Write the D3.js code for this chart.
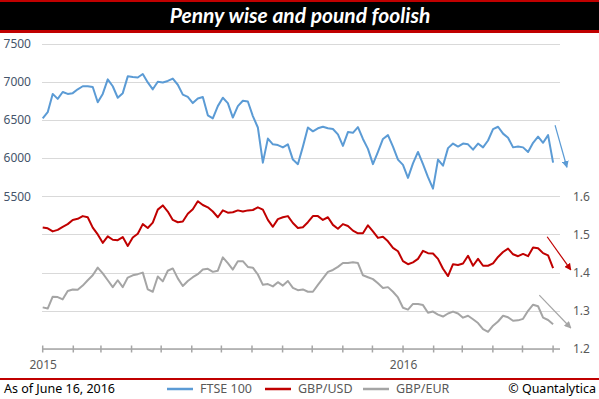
<!DOCTYPE html>
<html>
<head>
<meta charset="utf-8">
<script src="https://cdn.jsdelivr.net/npm/d3@7"></script>
<style>
  body { margin: 0; background: #fff; }
  svg { display: block; font-family: "Noto Sans", sans-serif; }
</style>
</head>
<body>
<svg id="chart" width="599" height="399"></svg>
<script>
const title = "Penny wise and pound foolish";
const seriesNames = ["FTSE 100", "GBP/USD", "GBP/EUR"];
const seriesColors = ["#5b9bd5", "#c00000", "#a5a5a5"];

// roughly every 5 days, Jan 2015 -> Jun 2016
const ftse = [
  6520, 6600, 6840, 6775, 6865, 6840, 6850, 6900, 6940, 6940,
  6930, 6730, 6840, 7030, 6940, 6790, 6850, 7070, 7060, 7055,
  7100, 6990, 6900, 7000, 6990, 7010, 7040, 6960, 6830, 6800,
  6720, 6780, 6800, 6560, 6520, 6680, 6790, 6720, 6530, 6680,
  6750, 6740, 6550, 6400, 5940, 6255, 6180, 6170, 6140, 6180,
  5980, 5920, 6150, 6400, 6350, 6390, 6410, 6390, 6380, 6310,
  6160, 6340, 6330, 6405, 6250, 6120, 5920, 6080, 6250, 6300,
  6150, 5980, 5910, 5740, 5930, 6080, 5920, 5750, 5600, 5980,
  5900, 6130, 6190, 6150, 6190, 6180, 6110, 6190, 6140, 6230,
  6380, 6410, 6320, 6265, 6140, 6150, 6140, 6080, 6200, 6280,
  6200, 6300, 5940
];
const gbpusd = [
  1.518, 1.516, 1.508, 1.512, 1.520, 1.527, 1.538, 1.541, 1.548, 1.545,
  1.518, 1.500, 1.478, 1.495, 1.486, 1.485, 1.493, 1.470, 1.492, 1.502,
  1.527, 1.517, 1.531, 1.565, 1.576, 1.560, 1.538, 1.532, 1.534, 1.554,
  1.566, 1.587, 1.577, 1.571, 1.560, 1.545, 1.563, 1.557, 1.558, 1.563,
  1.560, 1.563, 1.564, 1.571, 1.565, 1.538, 1.520, 1.540, 1.545, 1.548,
  1.530, 1.517, 1.519, 1.532, 1.548, 1.548, 1.538, 1.545, 1.525, 1.515,
  1.527, 1.522, 1.510, 1.503, 1.503, 1.524, 1.508, 1.491, 1.494, 1.482,
  1.465, 1.456, 1.430, 1.422, 1.427, 1.436, 1.457, 1.451, 1.450, 1.436,
  1.410, 1.391, 1.422, 1.420, 1.424, 1.444, 1.418, 1.436, 1.418, 1.418,
  1.424, 1.441, 1.454, 1.463, 1.448, 1.443, 1.449, 1.443, 1.466, 1.464,
  1.451, 1.445, 1.412
];
const gbpeur = [
  1.309, 1.306, 1.337, 1.336, 1.330, 1.352, 1.356, 1.355, 1.366, 1.380,
  1.393, 1.413, 1.398, 1.380, 1.362, 1.380, 1.362, 1.387, 1.393, 1.396,
  1.400, 1.356, 1.350, 1.390, 1.377, 1.405, 1.411, 1.385, 1.365, 1.378,
  1.388, 1.396, 1.408, 1.410, 1.402, 1.405, 1.440, 1.425, 1.408, 1.430,
  1.430, 1.415, 1.413, 1.395, 1.368, 1.370, 1.364, 1.375, 1.366, 1.378,
  1.360, 1.354, 1.356, 1.350, 1.350, 1.368, 1.385, 1.402, 1.407, 1.415,
  1.425, 1.425, 1.427, 1.425, 1.393, 1.388, 1.383, 1.372, 1.360, 1.362,
  1.350, 1.335, 1.308, 1.303, 1.318, 1.318, 1.315, 1.295, 1.298, 1.290,
  1.285, 1.293, 1.298, 1.293, 1.282, 1.287, 1.278, 1.268, 1.252, 1.245,
  1.261, 1.272, 1.287, 1.283, 1.274, 1.275, 1.279, 1.300, 1.316, 1.312,
  1.282, 1.276, 1.265
];

const leftTicks = [5500, 6000, 6500, 7000, 7500];
const rightTicks = [1.2, 1.3, 1.4, 1.5, 1.6];

// trend arrows: [date, value] from -> to
const arrows = [
  { axis: "left",  color: "#5b9bd5", from: [new Date(2016, 5, 3), 6430], to: [new Date(2016, 5, 15), 5880] },
  { axis: "right", color: "#c00000", from: [new Date(2016, 4, 26), 1.494], to: [new Date(2016, 5, 19), 1.407] },
  { axis: "right", color: "#a5a5a5", from: [new Date(2016, 4, 18), 1.341], to: [new Date(2016, 5, 19), 1.255] }
];

const startDate = new Date(2015, 0, 1);
const lastDate = new Date(2016, 5, 1);
const stepMs = (lastDate - startDate) / (ftse.length - 1);
const dateAt = i => new Date(startDate.getTime() + i * stepMs);

const svg = d3.select("#chart");

// title bar
svg.append("rect").attr("x", 0).attr("y", 0).attr("width", 599).attr("height", 33).attr("fill", "#c00000");
svg.append("rect").attr("x", 0).attr("y", 2).attr("width", 599).attr("height", 28).attr("fill", "#000");
svg.append("text")
   .attr("x", 300).attr("y", 23)
   .attr("text-anchor", "middle")
   .attr("fill", "#fff")
   .style("font-family", "Lato, 'Open Sans', sans-serif")
   .style("font-size", "21px")
   .style("font-weight", "bold")
   .style("font-style", "italic")
   .text(title);

const x = d3.scaleTime()
            .domain([new Date(2015, 0, 1), new Date(2016, 5, 8)])
            .range([42.7, 560]);

const yLeft = d3.scaleLinear().domain([3500, 7500]).range([349, 43.5]);
const yRight = d3.scaleLinear().domain([1.2, 2.0]).range([349, 43.5]);

// gridlines
svg.append("g")
   .selectAll("line")
   .data(d3.range(3500, 7501, 500))
   .enter()
   .append("line")
   .attr("x1", 42).attr("x2", 560)
   .attr("y1", d => Math.round(yLeft(d)) + 0.5)
   .attr("y2", d => Math.round(yLeft(d)) + 0.5)
   .attr("stroke", "#d9d9d9")
   .attr("stroke-width", 1);

// left axis labels
svg.append("g")
   .attr("transform", "translate(42,0)")
   .call(d3.axisLeft(yLeft).tickValues(leftTicks).tickSize(0).tickPadding(11).tickFormat(d3.format("d")))
   .call(g => g.select(".domain").remove())
   .call(g => g.selectAll("text").attr("fill", "#44546a").style("font-size", "12px").style("font-family", "'Noto Sans', sans-serif"));

// right axis labels
svg.append("g")
   .attr("transform", "translate(560,0)")
   .call(d3.axisRight(yRight).tickValues(rightTicks).tickSize(0).tickPadding(13).tickFormat(d3.format(".1f")))
   .call(g => g.select(".domain").remove())
   .call(g => g.selectAll("text").attr("fill", "#595959").style("font-size", "12px").style("font-family", "'Noto Sans', sans-serif"));

// x axis
const xAxisG = svg.append("g").attr("transform", "translate(0,349)");
xAxisG.call(d3.axisBottom(x)
      .ticks(d3.timeMonth.every(1))
      .tickSize(0)
      .tickPadding(11)
      .tickFormat(d => d.getMonth() === 0 ? d3.timeFormat("%Y")(d) : ""))
      .call(g => g.select(".domain").remove())
      .call(g => g.selectAll("text").attr("fill", "#595959").style("font-size", "12px").style("font-family", "'Noto Sans', sans-serif"));
xAxisG.append("line")
      .attr("x1", x.range()[0]).attr("x2", x.range()[1])
      .attr("y1", 0).attr("y2", 0)
      .attr("stroke", "#a6a6a6").attr("stroke-width", 1.5);
xAxisG.selectAll(".mtick")
      .data(x.ticks(d3.timeMonth.every(1)))
      .enter()
      .append("line")
      .attr("class", "mtick")
      .attr("x1", d => x(d)).attr("x2", d => x(d))
      .attr("y1", -3.5).attr("y2", 3.5)
      .attr("stroke", "#a6a6a6").attr("stroke-width", 1.5);

// series
const series = [
  { values: ftse, y: yLeft, color: seriesColors[0] },
  { values: gbpusd, y: yRight, color: seriesColors[1] },
  { values: gbpeur, y: yRight, color: seriesColors[2] }
];

series.forEach(s => {
  const line = d3.line()
                 .x((d, i) => x(dateAt(i)))
                 .y(d => s.y(d));
  svg.append("path")
     .datum(s.values)
     .attr("d", line)
     .attr("fill", "none")
     .attr("stroke", s.color)
     .attr("stroke-width", 2)
     .attr("stroke-linejoin", "round");
});

// arrows
const defs = svg.append("defs");
arrows.forEach((a, i) => {
  defs.append("marker")
      .attr("id", "arrow" + i)
      .attr("viewBox", "0 0 10 10")
      .attr("refX", 9).attr("refY", 5)
      .attr("markerWidth", 7).attr("markerHeight", 7)
      .attr("markerUnits", "userSpaceOnUse")
      .attr("orient", "auto")
      .append("path")
      .attr("d", "M0,0 L10,5 L0,10 z")
      .attr("fill", a.color);
  const ys = a.axis === "left" ? yLeft : yRight;
  svg.append("line")
     .attr("x1", x(a.from[0])).attr("y1", ys(a.from[1]))
     .attr("x2", x(a.to[0])).attr("y2", ys(a.to[1]))
     .attr("stroke", a.color)
     .attr("stroke-width", 1.2)
     .attr("marker-end", "url(#arrow" + i + ")");
});

// footer
svg.append("line")
   .attr("x1", 0).attr("x2", 599)
   .attr("y1", 379).attr("y2", 379)
   .attr("stroke", "#c00000").attr("stroke-width", 2);

svg.append("text")
   .attr("x", 4).attr("y", 393)
   .attr("fill", "#000")
   .style("font-size", "12.5px")
   .text("As of June 16, 2016");

svg.append("text")
   .attr("x", 596).attr("y", 393)
   .attr("text-anchor", "end")
   .attr("fill", "#000")
   .style("font-size", "12.5px")
   .text("© Quantalytica");

const legendX = [167, 265, 363];
seriesNames.forEach((name, i) => {
  svg.append("line")
     .attr("x1", legendX[i]).attr("x2", legendX[i] + 26)
     .attr("y1", 389).attr("y2", 389)
     .attr("stroke", seriesColors[i]).attr("stroke-width", 2.5);
  svg.append("text")
     .attr("x", legendX[i] + 33).attr("y", 393)
     .attr("fill", "#595959")
     .style("font-size", "12.5px")
     .text(name);
});
</script>
</body>
</html>
